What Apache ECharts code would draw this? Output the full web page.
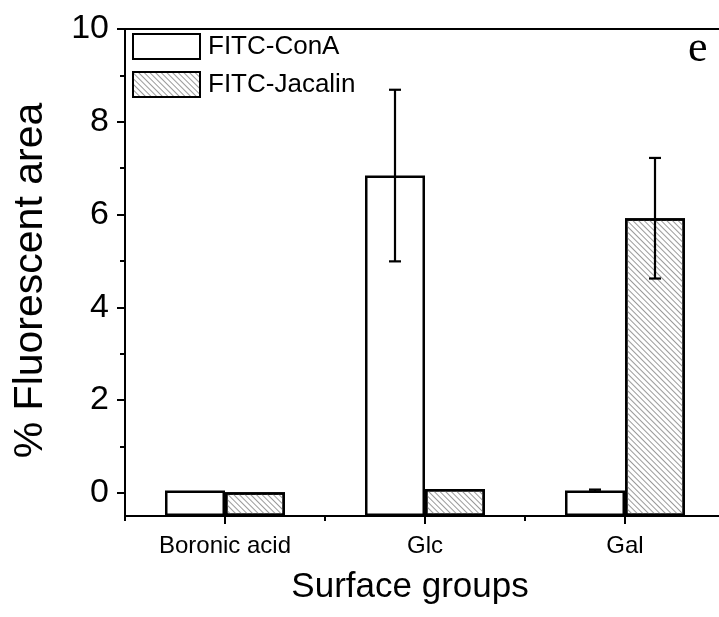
<!DOCTYPE html>
<html>
<head>
<meta charset="utf-8">
<script src="https://cdn.jsdelivr.net/npm/echarts@6/dist/echarts.min.js"></script>
<style>
html,body{margin:0;padding:0;background:#fff;overflow:hidden;}
#chart{width:719px;height:617px;}
</style>
</head>
<body>
<div id="chart"></div>
<script>
const categories = ['Boronic acid', 'Glc', 'Gal'];
const conA = [0.05, 6.84, 0.05];
const conAErr = [0, 1.85, 0.02];
const jacalin = [0.01, 0.08, 5.92];
const jacalinErr = [0, 0, 1.3];
const yTicks = [0, 2, 4, 6, 8, 10];

const FONT = '"Liberation Sans", Arial, sans-serif';
const chart = echarts.init(document.getElementById('chart'));

function errItem(offsetFrac) {
  return function (params, api) {
    const x = api.value(0), m = api.value(1), e = api.value(2);
    if (!e) return null;
    const band = api.size([1, 0])[0];
    const t = api.coord([x, m + e]);
    const b = api.coord([x, m - e]);
    const cx = t[0] + band * offsetFrac;
    const cap = 6;
    const st = {stroke: '#000', lineWidth: 2.2};
    return {
      type: 'group',
      children: [
        {type: 'line', shape: {x1: cx, y1: t[1], x2: cx, y2: b[1]}, style: st},
        {type: 'line', shape: {x1: cx - cap, y1: t[1], x2: cx + cap, y2: t[1]}, style: st},
        {type: 'line', shape: {x1: cx - cap, y1: b[1], x2: cx + cap, y2: b[1]}, style: st}
      ]
    };
  };
}

const hatch = {
  symbol: 'rect',
  symbolSize: 1,
  dashArrayX: [1, 0],
  dashArrayY: [1, 3],
  rotation: Math.PI / 4,
  color: '#9a9a9a'
};

const option = {
  backgroundColor: '#fff',
  animation: false,
  grid: [
    {left: 125, right: -6, top: 29, bottom: 101, show: false, outerBoundsMode: 'none', containLabel: false},
    {left: 125, right: -6, top: 29, bottom: 124.2, show: false, outerBoundsMode: 'none', containLabel: false}
  ],
  legend: {
    data: ['FITC-ConA', 'FITC-Jacalin'],
    orient: 'vertical',
    left: 132,
    top: 33,
    padding: 0,
    itemWidth: 67,
    itemHeight: 25,
    itemGap: 11,
    icon: 'rect',
    textStyle: {fontFamily: FONT, fontSize: 26, color: '#000', padding: [0, 0, 0, 3]}
  },
  xAxis: [
    {
      type: 'category', gridIndex: 0, data: categories, position: 'bottom',
      axisLine: {show: true, onZero: false, lineStyle: {color: '#000', width: 2}},
      axisTick: {show: true, alignWithLabel: true, length: 8, lineStyle: {width: 2, color: '#000'}},
      axisLabel: {fontFamily: FONT, fontSize: 24, color: '#000', margin: 18},
      name: 'Surface groups', nameLocation: 'middle', nameGap: 54,
      nameTextStyle: {fontFamily: FONT, fontSize: 35, color: '#000', padding: [0, 30, 0, 0]},
      splitLine: {show: false}
    },
    {
      type: 'category', gridIndex: 0, data: categories, position: 'bottom',
      axisLine: {show: false, onZero: false},
      axisTick: {show: true, alignWithLabel: false, length: 5, lineStyle: {width: 2, color: '#000'}},
      axisLabel: {show: false},
      splitLine: {show: false}
    },
    {type: 'category', gridIndex: 1, data: categories, show: false},
    {
      type: 'category', gridIndex: 0, data: categories, position: 'top',
      axisLine: {show: true, onZero: false, lineStyle: {color: '#000', width: 2}},
      axisTick: {show: false}, axisLabel: {show: false}, splitLine: {show: false}
    }
  ],
  yAxis: [
    {
      type: 'value', gridIndex: 0, position: 'left', min: -0.5, max: 10, startValue: -0.5,
      axisLine: {show: true, onZero: false, lineStyle: {color: '#000', width: 2}},
      axisTick: {show: false}, axisLabel: {show: false}, splitLine: {show: false},
      name: '% Fluorescent area', nameLocation: 'middle', nameGap: 74,
      nameTextStyle: {fontFamily: FONT, fontSize: 41, color: '#000', padding: [0, 16, 0, 0]}
    },
    {
      type: 'value', gridIndex: 1, position: 'left', min: yTicks[0], max: yTicks[yTicks.length - 1], interval: 2,
      axisLine: {show: false},
      axisTick: {show: true, length: 8, lineStyle: {width: 2, color: '#000'}},
      minorTick: {show: true, splitNumber: 2, length: 5, lineStyle: {width: 2, color: '#000'}},
      axisLabel: {fontFamily: FONT, fontSize: 34, color: '#000', margin: 16},
      splitLine: {show: false}, minorSplitLine: {show: false}
    }
  ],
  series: [
    {
      name: 'FITC-ConA', type: 'bar', xAxisIndex: 0, yAxisIndex: 0, data: conA,
      barGap: '0%', barCategoryGap: '40%',
      itemStyle: {color: '#fff', borderColor: '#000', borderWidth: 2.5}
    },
    {
      name: 'FITC-Jacalin', type: 'bar', xAxisIndex: 0, yAxisIndex: 0, data: jacalin,
      barGap: '0%', barCategoryGap: '40%',
      itemStyle: {color: '#fff', borderColor: '#000', borderWidth: 2.5, decal: hatch}
    },
    {
      name: 'errConA', type: 'custom', xAxisIndex: 0, yAxisIndex: 0, z: 5,
      encode: {x: 0, y: 1},
      data: categories.map((c, i) => [i, conA[i], conAErr[i]]),
      renderItem: errItem(-0.15)
    },
    {
      name: 'errJacalin', type: 'custom', xAxisIndex: 0, yAxisIndex: 0, z: 5,
      encode: {x: 0, y: 1},
      data: categories.map((c, i) => [i, jacalin[i], jacalinErr[i]]),
      renderItem: errItem(0.15)
    }
  ],
  graphic: [
    {type: 'text', left: 688, top: 27, style: {text: 'e', fontFamily: '"Liberation Serif", "Times New Roman", serif', fontSize: 44, fill: '#000'}}
  ]
};
chart.setOption(option);
</script>
</body>
</html>
